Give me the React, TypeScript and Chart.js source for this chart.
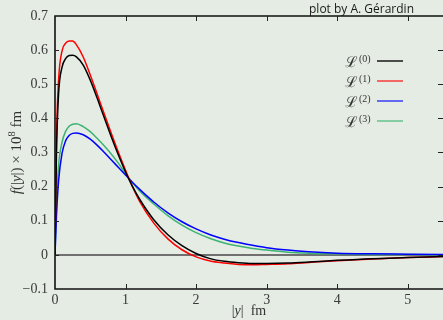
import React, { useEffect, useRef } from "react";
import { Chart, registerables } from "chart.js";

Chart.register(...registerables);

// |y| in fm
const X = [0, 0.02, 0.05, 0.1, 0.15, 0.2, 0.25, 0.3, 0.4, 0.5, 0.6, 0.7, 0.8, 0.9, 1.0, 1.1, 1.2, 1.4, 1.6, 1.8, 2.0, 2.2, 2.4, 2.6, 2.8, 3.0, 3.3, 3.6, 4.0, 4.5, 5.0, 5.5];
const L0 = [0, 0.29, 0.47, 0.55, 0.575, 0.584, 0.585, 0.581, 0.556, 0.512, 0.458, 0.401, 0.345, 0.292, 0.243, 0.2, 0.163, 0.103, 0.059, 0.027, 0.004, -0.011, -0.019, -0.023, -0.025, -0.025, -0.024, -0.021, -0.016, -0.011, -0.008, -0.005];
const L1 = [0, 0.33, 0.51, 0.598, 0.62, 0.627, 0.627, 0.617, 0.58, 0.527, 0.47, 0.412, 0.355, 0.3, 0.248, 0.199, 0.157, 0.093, 0.047, 0.015, -0.006, -0.018, -0.024, -0.028, -0.029, -0.028, -0.026, -0.022, -0.017, -0.012, -0.008, -0.005];
const L2 = [0, 0.11, 0.215, 0.298, 0.334, 0.35, 0.356, 0.357, 0.352, 0.339, 0.321, 0.3, 0.278, 0.256, 0.234, 0.212, 0.192, 0.155, 0.123, 0.097, 0.076, 0.059, 0.046, 0.036, 0.028, 0.021, 0.014, 0.009, 0.005, 0.003, 0.002, 0.001];
const L3 = [0, 0.14, 0.26, 0.33, 0.362, 0.377, 0.383, 0.384, 0.376, 0.361, 0.341, 0.319, 0.295, 0.268, 0.238, 0.211, 0.187, 0.149, 0.115, 0.087, 0.065, 0.048, 0.035, 0.026, 0.019, 0.014, 0.008, 0.005, 0.003, 0.001, 0.001, 0];

const SERIES_NAMES = ["0", "1", "2", "3"];
const SERIES_COLORS = ["#000000", "#ff0000", "#0000ff", "#3cb371"];
const SERIES = [L0, L1, L2, L3];

const X_TICKS = [0, 1, 2, 3, 4, 5];
const Y_TICKS = [-0.1, 0, 0.1, 0.2, 0.3, 0.4, 0.5, 0.6, 0.7];
const X_MIN = 0, X_MAX = 5.5, Y_MIN = -0.1, Y_MAX = 0.7;

const BG = "#e4ece3";
const SERIF = "'Liberation Serif', 'DejaVu Serif', serif";

type Run = { t: string; it?: boolean; sup?: boolean };

function drawRuns(ctx: CanvasRenderingContext2D, runs: Run[], x: number, y: number, size: number) {
  const fontOf = (r: Run) => `${r.it ? "italic " : ""}${r.sup ? size * 0.7 : size}px ${SERIF}`;
  let total = 0;
  for (const r of runs) {
    ctx.font = fontOf(r);
    total += ctx.measureText(r.t).width;
  }
  let cx = x - total / 2;
  for (const r of runs) {
    ctx.font = fontOf(r);
    ctx.fillText(r.t, cx, r.sup ? y - size * 0.4 : y);
    cx += ctx.measureText(r.t).width;
  }
}

const decor = {
  id: "decor",
  beforeDatasetsDraw(chart: any) {
    const { ctx, chartArea: a, scales } = chart;
    const y0 = scales.y.getPixelForValue(0);
    ctx.save();
    ctx.strokeStyle = "#707070";
    ctx.lineWidth = 2;
    ctx.beginPath();
    ctx.moveTo(a.left, y0);
    ctx.lineTo(a.right, y0);
    ctx.stroke();
    ctx.restore();
  },
  afterDraw(chart: any) {
    const { ctx, chartArea: a, scales } = chart;
    ctx.save();
    // frame
    ctx.strokeStyle = "#111";
    ctx.lineWidth = 1.6;
    ctx.beginPath();
    ctx.moveTo(a.right + 2, a.top);
    ctx.lineTo(a.left, a.top);
    ctx.lineTo(a.left, a.bottom);
    ctx.lineTo(a.right + 2, a.bottom);
    ctx.stroke();
    // inward ticks
    ctx.lineWidth = 1;
    ctx.strokeStyle = "#222";
    ctx.beginPath();
    for (const v of X_TICKS) {
      if (v === X_MIN) continue;
      const px = Math.round(scales.x.getPixelForValue(v)) + 0.5;
      ctx.moveTo(px, a.bottom);
      ctx.lineTo(px, a.bottom - 5);
      ctx.moveTo(px, a.top);
      ctx.lineTo(px, a.top + 5);
    }
    for (const v of Y_TICKS) {
      if (v === Y_MIN || v === Y_MAX) continue;
      const py = Math.round(scales.y.getPixelForValue(v)) + 0.5;
      ctx.moveTo(a.left, py);
      ctx.lineTo(a.left + 4, py);
      ctx.moveTo(a.right, py);
      ctx.lineTo(a.right - 5, py);
    }
    ctx.stroke();

    // legend
    SERIES_NAMES.forEach((n, i) => {
      const ly = a.top + 45 + i * 20;
      ctx.strokeStyle = SERIES_COLORS[i];
      ctx.lineWidth = 1.5;
      ctx.globalAlpha = i === 0 ? 0.9 : 0.75;
      ctx.beginPath();
      ctx.moveTo(377, ly);
      ctx.lineTo(403, ly);
      ctx.stroke();
      ctx.globalAlpha = 1;
      ctx.fillStyle = "#333";
      ctx.textAlign = "left";
      ctx.textBaseline = "alphabetic";
      ctx.font = `15px ${SERIF}`;
      ctx.fillText("ℒ", 345, ly + 6);
      const w = ctx.measureText("ℒ").width;
      ctx.font = `10px ${SERIF}`;
      ctx.fillText(`(${n})`, 345 + w + 1, ly + 1);
    });

    // axis titles
    ctx.fillStyle = "#333";
    ctx.textAlign = "left";
    ctx.textBaseline = "alphabetic";
    drawRuns(ctx, [{ t: "|" }, { t: "y", it: true }, { t: "|  fm" }], (a.left + a.right) / 2, 315, 14);
    ctx.save();
    ctx.translate(21, (a.top + a.bottom) / 2);
    ctx.rotate(-Math.PI / 2);
    drawRuns(ctx, [{ t: "f", it: true }, { t: "(|" }, { t: "y", it: true }, { t: "|) × 10" }, { t: "8", sup: true }, { t: " fm" }], 0, 0, 15);
    ctx.restore();

    // credit
    ctx.fillStyle = "#1a1a1a";
    ctx.font = "12px 'Open Sans', 'DejaVu Sans', sans-serif";
    ctx.textAlign = "right";
    ctx.fillText("plot by A. Gérardin", 414, 13);
    ctx.restore();
  },
};

export default function App() {
  const ref = useRef<HTMLCanvasElement | null>(null);
  useEffect(() => {
    if (!ref.current) return;
    const chart = new Chart(ref.current, {
      type: "line",
      data: {
        datasets: SERIES.map((s, i) => ({
          label: SERIES_NAMES[i],
          data: X.map((x, j) => ({ x, y: s[j] })),
          borderColor: SERIES_COLORS[i],
          borderWidth: 1.5,
          pointRadius: 0,
          fill: false,
          cubicInterpolationMode: "monotone" as const,
        })),
      },
      options: {
        animation: false,
        responsive: true,
        maintainAspectRatio: false,
        layout: { padding: { top: 16, right: 0, left: 0, bottom: 0 } },
        plugins: { legend: { display: false }, tooltip: { enabled: false }, title: { display: false } },
        scales: {
          x: {
            type: "linear",
            min: X_MIN,
            max: X_MAX,
            grid: { display: false, drawTicks: false },
            border: { display: false },
            afterFit: (s: any) => { s.height = 31; },
            afterBuildTicks: (s: any) => { s.ticks = X_TICKS.map((v) => ({ value: v })); },
            ticks: {
              padding: 3,
              color: "#3a3a3a",
              font: { family: SERIF, size: 14 },
              maxRotation: 0,
              callback: (v: any) => String(v),
            },
          },
          y: {
            type: "linear",
            min: Y_MIN,
            max: Y_MAX,
            grid: { display: false, drawTicks: false },
            border: { display: false },
            afterFit: (s: any) => { s.width = 55; },
            afterBuildTicks: (s: any) => { s.ticks = Y_TICKS.map((v) => ({ value: v })); },
            ticks: {
              padding: 7,
              color: "#3a3a3a",
              font: { family: SERIF, size: 14 },
              callback: (v: any) => {
                const n = Number(v);
                if (Math.abs(n) < 1e-9) return "0";
                const s = Math.abs(n).toFixed(1);
                return n < 0 ? "−" + s : s;
              },
            },
          },
        },
      },
      plugins: [decor],
    });
    return () => chart.destroy();
  }, []);
  return (
    <div style={{ position: "absolute", left: 0, top: 0, width: 443, height: 320, background: BG }}>
      <canvas ref={ref} />
    </div>
  );
}
